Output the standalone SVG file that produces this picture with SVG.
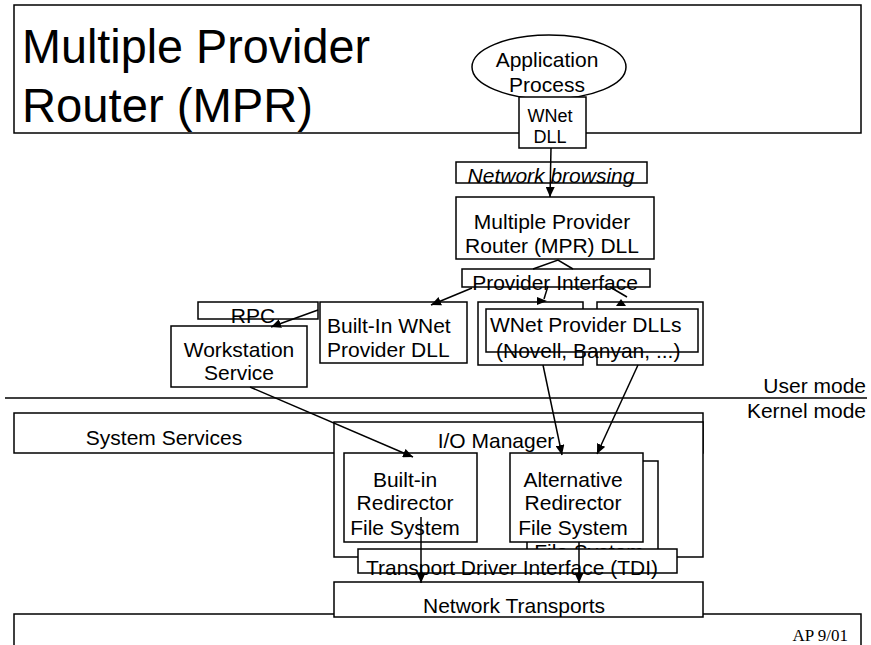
<svg xmlns="http://www.w3.org/2000/svg" width="871" height="645" viewBox="0 0 871 645">
<defs>
<style>
.bx{fill:#fff;stroke:#000;stroke-width:1.5}
.t{font-family:"Liberation Sans",Arial,sans-serif;font-size:21px;fill:#000}
.c{text-anchor:middle}
.cn{fill:none;stroke:#000;stroke-width:1.5}
.ah{fill:#000;stroke:none}
</style>
<marker id="arr" markerUnits="userSpaceOnUse" markerWidth="11" markerHeight="9" refX="10" refY="4.5" orient="auto">
<path d="M0,0 L10,4.5 L0,9 z" fill="#000"/>
</marker>
<clipPath id="backclip"><rect x="527" y="543" width="131" height="6"/></clipPath>
</defs>
<rect width="871" height="645" fill="#fff"/>

<g id="title">
<rect class="bx" x="14" y="5" width="847" height="128"/>
<text class="t" x="22" y="63" style="font-size:48px" textLength="348" lengthAdjust="spacingAndGlyphs">Multiple Provider</text>
<text class="t" x="22" y="122" style="font-size:48px" textLength="291" lengthAdjust="spacingAndGlyphs">Router (MPR)</text>
</g>

<g id="app-process">
<ellipse class="bx" cx="549" cy="67" rx="77" ry="32"/>
<text class="t c" x="547" y="67">Application</text>
<text class="t c" x="547" y="92">Process</text>
</g>

<g id="wnet-dll">
<rect class="bx" x="519" y="97" width="67" height="51"/>
<text class="t c" x="550" y="122" style="font-size:18px">WNet</text>
<text class="t c" x="550" y="143" style="font-size:18px">DLL</text>
</g>

<g id="network-browsing">
<rect class="bx" x="456" y="162" width="191" height="21"/>
<text class="t c" x="551" y="183" style="font-style:italic">Network browsing</text>
</g>

<g id="mpr-dll">
<rect class="bx" x="456" y="197" width="198" height="62"/>
<text class="t c" x="552" y="229">Multiple Provider</text>
<text class="t c" x="552" y="253">Router (MPR) DLL</text>
</g>

<g id="provider-interface">
<rect class="bx" x="462" y="269" width="188" height="18"/>
<text class="t c" x="555" y="290">Provider Interface</text>
</g>

<g id="rpc">
<rect class="bx" x="198" y="302" width="120" height="17"/>
<text class="t c" x="253" y="323">RPC</text>
</g>

<g id="workstation-service">
<rect class="bx" x="171" y="326" width="136" height="61"/>
<text class="t c" x="239" y="357">Workstation</text>
<text class="t c" x="239" y="380">Service</text>
</g>

<g id="builtin-wnet">
<rect class="bx" x="320" y="302" width="147" height="61"/>
<text class="t" x="327" y="333">Built-In WNet</text>
<text class="t" x="327" y="357">Provider DLL</text>
</g>

<g id="wnet-provider-dlls">
<rect class="bx" x="478" y="302" width="105" height="63"/>
<rect class="bx" x="597" y="302" width="106" height="63"/>
<rect class="bx" x="486" y="309" width="212" height="43"/>
<text class="t" x="490" y="332">WNet Provider DLLs</text>
<text class="t" x="496" y="358">(Novell, Banyan, ...)</text>
</g>

<g id="mode-divider">
<line x1="5" y1="398" x2="867" y2="398" stroke="#000" stroke-width="1.5"/>
<text class="t" x="866" y="393" text-anchor="end">User mode</text>
<text class="t" x="866" y="418" text-anchor="end">Kernel mode</text>
</g>

<g id="system-services">
<rect class="bx" x="14" y="413" width="689" height="40"/>
<text class="t c" x="164" y="445">System Services</text>
</g>

<g id="io-manager">
<rect class="bx" x="334" y="422" width="369" height="135"/>
<text class="t c" x="496" y="448">I/O Manager</text>
</g>

<g id="builtin-redirector">
<rect class="bx" x="344" y="453" width="133" height="89"/>
<text class="t c" x="405" y="487">Built-in</text>
<text class="t c" x="405" y="510">Redirector</text>
<text class="t c" x="405" y="535">File System</text>
</g>

<g id="alternative-redirector">
<rect class="bx" x="527" y="461" width="131" height="89"/>
<text class="t c" x="589" y="559" clip-path="url(#backclip)">File System</text>
<rect class="bx" x="510" y="453" width="133" height="89"/>
<text class="t c" x="573" y="487">Alternative</text>
<text class="t c" x="573" y="510">Redirector</text>
<text class="t c" x="573" y="535">File System</text>
</g>

<g id="tdi">
<rect class="bx" x="358" y="549" width="319" height="24"/>
<text class="t c" x="512" y="575">Transport Driver Interface (TDI)</text>
</g>

<g id="footer">
<rect class="bx" x="14" y="614" width="847" height="50"/>
<text x="848" y="641" text-anchor="end" style="font-family:'Liberation Serif','Times New Roman',serif;font-size:17px">AP 9/01</text>
</g>

<g id="network-transports">
<rect class="bx" x="334" y="582" width="369" height="35"/>
<text class="t c" x="514" y="613">Network Transports</text>
</g>

<g id="connectors">
<line class="cn" x1="551" y1="148" x2="550" y2="197" marker-end="url(#arr)"/>
<polyline class="cn" points="533,269 558,260 573,269"/>
<line class="cn" x1="472" y1="288" x2="431" y2="305" marker-end="url(#arr)"/>
<line class="cn" x1="318" y1="310" x2="271" y2="327" marker-end="url(#arr)"/>
<line class="cn" x1="548" y1="286" x2="544" y2="299"/>
<polygon class="ah" points="537,297 537,305 547,301"/>
<line class="cn" x1="610" y1="287" x2="627" y2="297"/>
<polygon class="ah" points="616,306 626,306 621,299"/>
<line class="cn" x1="543" y1="365" x2="562" y2="455" marker-end="url(#arr)"/>
<line class="cn" x1="638" y1="365" x2="597" y2="454" marker-end="url(#arr)"/>
<line class="cn" x1="250" y1="387" x2="413" y2="457" marker-end="url(#arr)"/>
<line class="cn" x1="421" y1="517" x2="421" y2="583" marker-end="url(#arr)"/>
<line class="cn" x1="579" y1="542" x2="579" y2="583" marker-end="url(#arr)"/>
</g>
</svg>
